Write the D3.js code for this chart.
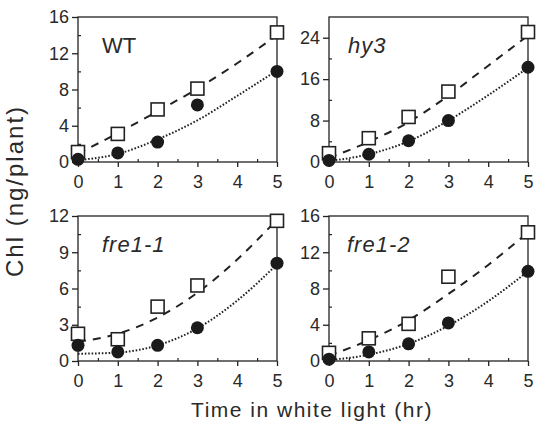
<!DOCTYPE html>
<html>
<head>
<meta charset="utf-8">
<script src="https://cdn.jsdelivr.net/npm/d3@7"></script>
<style>
body { margin: 0; background: #fff; }
text { font-family: "Liberation Sans", Arial, sans-serif; fill: #2a2a2a; }
</style>
</head>
<body>
<script>
// measured hours and the read-off fit curves
var hours = [0, 1, 2, 3, 5]
var fitHours = [0, 1, 2, 3, 4, 5]
var xTicks = [0, 1, 2, 3, 4, 5]
var xMinor = [0.5, 1.5, 2.5, 3.5, 4.5]

var wtOpen = [1.1, 3.1, 5.8, 8.1, 14.3]
var wtFilled = [0.3, 1.0, 2.2, 6.3, 10.0]
var wtOpenFit = [0.9, 3.2, 5.6, 8.1, 10.9, 14.0]
var wtFilledFit = [0.2, 0.9, 2.5, 4.6, 7.3, 10.1]
var wtTicks = [0, 4, 8, 12, 16]
var wtMinor = [2, 6, 10, 14]

var hy3Open = [1.7, 4.6, 8.7, 13.6, 25.1]
var hy3Filled = [0.3, 1.5, 4.1, 8.0, 18.3]
var hy3OpenFit = [0.8, 3.9, 7.7, 12.8, 18.6, 24.4]
var hy3FilledFit = [0.2, 1.5, 4.0, 8.0, 12.9, 18.2]
var hy3Ticks = [0, 8, 16, 24]
var hy3Minor = [4, 12, 20]

var fre11Open = [2.25, 1.8, 4.5, 6.25, 11.6]
var fre11Filled = [1.3, 0.75, 1.3, 2.75, 8.1]
var fre11OpenFit = [1.6, 2.25, 3.6, 5.65, 8.4, 11.7]
var fre11FilledFit = [0.6, 0.7, 1.3, 2.7, 5.0, 8.0]
var fre11Ticks = [0, 3, 6, 9, 12]
var fre11Minor = [1.5, 4.5, 7.5, 10.5]

var fre12Open = [0.9, 2.5, 4.1, 9.3, 14.2]
var fre12Filled = [0.2, 1.0, 1.9, 4.2, 9.9]
var fre12OpenFit = [0.6, 2.3, 4.5, 7.4, 10.6, 14.2]
var fre12FilledFit = [0.1, 0.7, 1.9, 3.9, 6.6, 9.9]
var fre12Ticks = [0, 4, 8, 12, 16]
var fre12Minor = [2, 6, 10, 14]

var width = 544
var height = 428
var pw = 199
var ph = 145

var panels = [
    {label: "WT", italic: false, open: wtOpen, filled: wtFilled, openFit: wtOpenFit, filledFit: wtFilledFit,
     yMax: 16, ticks: wtTicks, minor: wtMinor, left: 78, top: 17, lx: 24},
    {label: "hy3", italic: true, open: hy3Open, filled: hy3Filled, openFit: hy3OpenFit, filledFit: hy3FilledFit,
     yMax: 28, ticks: hy3Ticks, minor: hy3Minor, left: 329, top: 17, lx: 19},
    {label: "fre1-1", italic: true, open: fre11Open, filled: fre11Filled, openFit: fre11OpenFit, filledFit: fre11FilledFit,
     yMax: 12, ticks: fre11Ticks, minor: fre11Minor, left: 78, top: 216, lx: 24},
    {label: "fre1-2", italic: true, open: fre12Open, filled: fre12Filled, openFit: fre12OpenFit, filledFit: fre12FilledFit,
     yMax: 16, ticks: fre12Ticks, minor: fre12Minor, left: 329, top: 216, lx: 18}
]

var ink = "#222"

var svg = d3.select("body")
    .append("svg")
    .attr("width", width)
    .attr("height", height)

panels.forEach(function(p) {
    var x = d3.scaleLinear().domain([0, 5]).range([0, pw])
    var y = d3.scaleLinear().domain([0, p.yMax]).range([ph, 0])

    var g = svg.append("g")
        .attr("transform", "translate(" + p.left + "," + p.top + ")")

    // fit curves first, markers go over them
    var line = d3.line()
        .curve(d3.curveMonotoneX)
        .x(function(d, i) { return x(fitHours[i]) })
        .y(function(d) { return y(d) })

    g.append("path")
        .datum(p.openFit)
        .attr("fill", "none")
        .attr("stroke", ink)
        .attr("stroke-width", 2)
        .attr("stroke-dasharray", "8,7")
        .attr("d", line)

    g.append("path")
        .datum(p.filledFit)
        .attr("fill", "none")
        .attr("stroke", ink)
        .attr("stroke-width", 2)
        .attr("stroke-dasharray", "1.6,1.8")
        .attr("d", line)

    // frame
    g.append("rect")
        .attr("width", pw)
        .attr("height", ph)
        .attr("fill", "none")
        .attr("stroke", ink)
        .attr("stroke-width", 1.3)

    var yAxis = g.append("g")
        .call(d3.axisLeft(y).tickValues(p.ticks).tickSize(6).tickPadding(3).tickFormat(d3.format("d")))
    yAxis.select(".domain").remove()
    yAxis.selectAll("text").style("font-size", "18px").attr("fill", null)
    yAxis.selectAll("line").attr("stroke", ink).attr("stroke-width", 1.3)

    var yMinorAxis = g.append("g")
        .call(d3.axisLeft(y).tickValues(p.minor).tickSize(-3).tickFormat(""))
    yMinorAxis.select(".domain").remove()
    yMinorAxis.selectAll("line").attr("stroke", ink).attr("stroke-width", 1.2)

    var xAxis = g.append("g")
        .attr("transform", "translate(0," + ph + ")")
        .call(d3.axisBottom(x).tickValues(xTicks).tickSize(5).tickPadding(8).tickFormat(d3.format("d")))
    xAxis.select(".domain").remove()
    xAxis.selectAll("text").style("font-size", "18px").attr("fill", null)
    xAxis.selectAll("line").attr("stroke", ink).attr("stroke-width", 1.3)

    var xMinorAxis = g.append("g")
        .attr("transform", "translate(0," + ph + ")")
        .call(d3.axisBottom(x).tickValues(xMinor).tickSize(-3).tickFormat(""))
    xMinorAxis.select(".domain").remove()
    xMinorAxis.selectAll("line").attr("stroke", ink).attr("stroke-width", 1.2)

    g.selectAll("rect.sq")
        .data(p.open)
        .enter()
        .append("rect")
        .attr("class", "sq")
        .attr("x", function(d, i) { return x(hours[i]) - 6.5 })
        .attr("y", function(d) { return y(d) - 6.5 })
        .attr("width", 13)
        .attr("height", 13)
        .attr("fill", "#fff")
        .attr("stroke", ink)
        .attr("stroke-width", 1.6)

    g.selectAll("circle")
        .data(p.filled)
        .enter()
        .append("circle")
        .attr("cx", function(d, i) { return x(hours[i]) })
        .attr("cy", function(d) { return y(d) })
        .attr("r", 6.5)
        .attr("fill", "#1a1a1a")

    g.append("text")
        .attr("x", p.lx)
        .attr("y", 36)
        .style("font-size", "22px")
        .style("font-style", p.italic ? "italic" : "normal")
        .style("letter-spacing", p.italic ? "1px" : "0px")
        .text(p.label)
})

svg.append("text")
    .attr("transform", "translate(23,191) rotate(-90)")
    .attr("text-anchor", "middle")
    .style("font-size", "24px")
    .style("letter-spacing", "2px")
    .text("Chl (ng/plant)")

svg.append("text")
    .attr("x", 312)
    .attr("y", 417)
    .attr("text-anchor", "middle")
    .style("font-size", "21px")
    .style("letter-spacing", "1.5px")
    .text("Time in white light (hr)")
</script>
</body>
</html>
